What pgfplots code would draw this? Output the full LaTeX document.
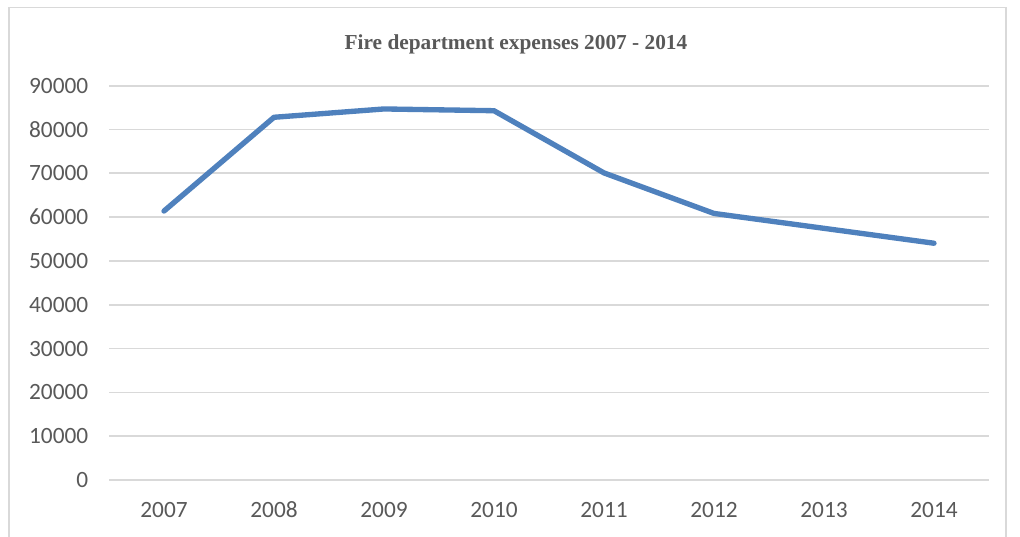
\documentclass[border=0pt]{standalone}
\usepackage{pgfplots}
\pgfplotsset{compat=1.18}
\usepackage{fontspec}
\setmainfont{Carlito}
\newfontfamily\titlefont{Liberation Serif}
\definecolor{txt}{HTML}{595959}
\definecolor{gridc}{HTML}{D9D9D9}
\definecolor{linec}{HTML}{4F81BD}
\begin{document}
\begin{tikzpicture}
\path[use as bounding box] (0pt,0pt) rectangle (765pt,-402pt);
\fill[white] (0pt,0pt) rectangle (765pt,-402pt);
\draw[gridc, line width=0.9pt] (6.75pt,-5.5pt) rectangle (754.5pt,-420pt);
\node[font=\titlefont\bfseries\fontsize{16}{19}\selectfont, text=txt] at (387pt,-33pt) {Fire department expenses 2007 - 2014};
\begin{axis}[
  at={(81.75pt,-360pt)}, anchor=south west,
  scale only axis, width=660pt, height=295.7pt,
  xmin=-0.5, xmax=7.5, ymin=0, ymax=90000,
  axis line style={draw=none},
  tick style={draw=none},
  ymajorgrids, xmajorgrids=false,
  major grid style={draw=gridc, line width=1.3pt},
  ytick={0,10000,...,90000},
  xtick={0,...,7},
  xticklabels={2007,2008,2009,2010,2011,2012,2013,2014},
  major tick length=0pt,
  scaled y ticks=false,
  yticklabel style={/pgf/number format/fixed, /pgf/number format/1000 sep={}, xshift=-12pt},
  xticklabel style={yshift=-13pt},
  ticklabel style={font=\fontsize{17.5}{20}\selectfont, text=txt},
  /pgf/number format/assume math mode=true,
  clip=false,
]
\addplot[linec, line width=4pt, line join=round, line cap=round] coordinates {
(0,61400) (1,82800) (2,84700) (3,84300) (4,70100) (5,60850) (6,57450) (7,54050)
};
\end{axis}
\end{tikzpicture}
\end{document}
